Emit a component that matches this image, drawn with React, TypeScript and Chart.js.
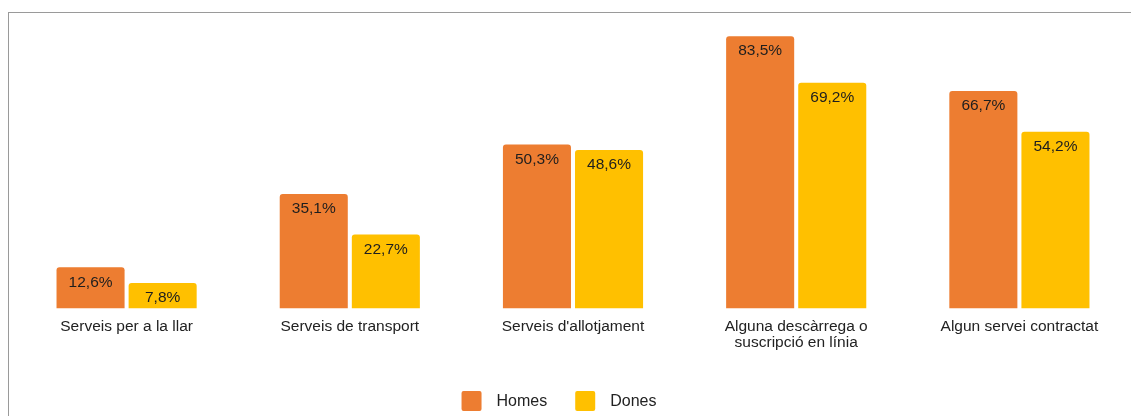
import React, { useEffect, useRef } from "react";
import { Chart, registerables } from "chart.js";

Chart.register(...registerables);

const categories: (string | string[])[] = [
  "Serveis per a la llar",
  "Serveis de transport",
  "Serveis d'allotjament",
  ["Alguna descàrrega o", "suscripció en línia"],
  "Algun servei contractat",
];
const homes = [12.6, 35.1, 50.3, 83.5, 66.7];
const dones = [7.8, 22.7, 48.6, 69.2, 54.2];
const seriesNames = ["Homes", "Dones"];
const colors = ["#ED7D31", "#FFC000"];

const FONT = "'Liberation Sans', Arial, sans-serif";

const fmt = (v: number) => v.toFixed(1).replace(".", ",") + "%";

const valueLabels = {
  id: "valueLabels",
  afterDatasetsDraw(chart: any) {
    const ctx = chart.ctx;
    ctx.save();
    ctx.font = `15.5px ${FONT}`;
    ctx.fillStyle = "#1e1e1e";
    ctx.textAlign = "center";
    ctx.textBaseline = "middle";
    chart.data.datasets.forEach((ds: any, i: number) => {
      const meta = chart.getDatasetMeta(i);
      meta.data.forEach((bar: any, j: number) => {
        ctx.fillText(fmt(ds.data[j]), bar.x, bar.y + 15);
      });
    });
    ctx.restore();
  },
};

const customLegend = {
  id: "customLegend",
  afterDraw(chart: any) {
    const ctx = chart.ctx;
    ctx.save();
    ctx.font = `16px ${FONT}`;
    ctx.textBaseline = "middle";
    ctx.textAlign = "left";
    const box = 20;
    const gap = 15;
    const itemGap = 28;
    const items = chart.data.datasets.map((ds: any) => ({
      text: ds.label,
      color: ds.backgroundColor,
      w: box + gap + ctx.measureText(ds.label).width,
    }));
    const total = items.reduce((a: number, it: any) => a + it.w, 0) + itemGap * (items.length - 1);
    let x = 559 - total / 2;
    const cy = 401;
    items.forEach((it: any) => {
      ctx.fillStyle = it.color;
      ctx.beginPath();
      (ctx as any).roundRect(x, cy - box / 2, box, box, 2);
      ctx.fill();
      ctx.fillStyle = "#222";
      ctx.fillText(it.text, x + box + gap, cy + 1);
      x += it.w + itemGap;
    });
    ctx.restore();
  },
};

export default function App() {
  const ref = useRef<HTMLCanvasElement>(null);
  useEffect(() => {
    if (!ref.current) return;
    const chart = new Chart(ref.current, {
      type: "bar",
      data: {
        labels: categories,
        datasets: [
          { label: seriesNames[0], data: homes, backgroundColor: colors[0], borderRadius: { topLeft: 3, topRight: 3 } as any, borderSkipped: "bottom", categoryPercentage: 0.646, barPercentage: 0.944 },
          { label: seriesNames[1], data: dones, backgroundColor: colors[1], borderRadius: { topLeft: 3, topRight: 3 } as any, borderSkipped: "bottom", categoryPercentage: 0.646, barPercentage: 0.944 },
        ],
      },
      options: {
        responsive: false,
        animation: false,
        layout: { padding: { left: 15, right: 0, top: 15, bottom: 63 } },
        plugins: { legend: { display: false }, tooltip: { enabled: false } },
        scales: {
          x: {
            grid: { display: false },
            border: { display: false },
            ticks: { color: "#222", font: { family: FONT, size: 15.5, lineHeight: 1.05 }, padding: 2, maxRotation: 0, autoSkip: false },
          },
          y: { display: false, min: 0, max: 90 },
        },
      },
      plugins: [valueLabels, customLegend],
    });
    return () => chart.destroy();
  }, []);
  return (
    <div style={{ position: "absolute", left: 0, top: 0, width: 1131, height: 416, background: "#fff", overflow: "hidden" }}>
      <canvas ref={ref} width={1131} height={416} style={{ position: "absolute", left: 0, top: 0 }} />
      <div style={{ position: "absolute", left: 8, top: 12, width: 1200, height: 500, borderTop: "1px solid #9a9a9a", borderLeft: "1px solid #9a9a9a", pointerEvents: "none" }} />
    </div>
  );
}
